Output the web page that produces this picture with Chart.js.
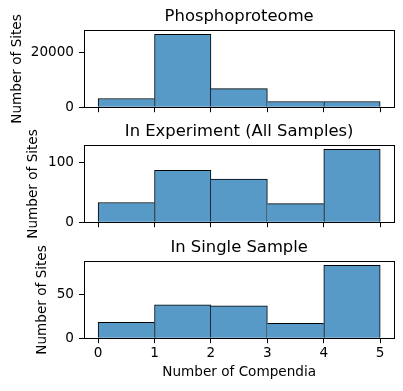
<!DOCTYPE html>
<html><head><meta charset="utf-8">
<script src="https://cdn.jsdelivr.net/npm/chart.js@4.4.1/dist/chart.umd.min.js"></script>
<style>
html,body{margin:0;padding:0;background:#fff;width:403px;height:391px;overflow:hidden}
canvas{position:absolute;left:0;top:0}
</style></head><body>
<canvas id="c1" width="403" height="391"></canvas>
<canvas id="c2" width="403" height="391"></canvas>
<canvas id="c3" width="403" height="391"></canvas>
<script>
const binEdges = [0, 1, 2, 3, 4, 5];
const xTickValues = [0, 1, 2, 3, 4, 5];
const panelTitles = ['Phosphoproteome', 'In Experiment (All Samples)', 'In Single Sample'];
const phosphoproteomeCounts = [3200, 26800, 6850, 2100, 2100];
const experimentCounts = [33, 87, 72, 31, 122];
const singleSampleCounts = [18, 38, 37, 17, 83];
const yTicksPhospho = [0, 20000];
const yTicksExperiment = [0, 100];
const yTicksSingle = [0, 50];
const yAxisLabel = 'Number of Sites';
const xAxisLabel = 'Number of Compendia';

Chart.defaults.font.family = 'DejaVu Sans';
Chart.defaults.color = '#000';

const TICK_FONT = {family: 'DejaVu Sans', size: 13.6};
const TITLE_FONT = {family: 'DejaVu Sans', size: 16.4, weight: 'normal'};
const BAR_FILL = 'rgb(87,153,199)';
const AXES_HEIGHT = 76.5;

function makePanel(id, counts, yTicks, title, cfg) {
  const pts = counts.map((v, i) => ({x: (binEdges[i] + binEdges[i + 1]) / 2, y: v}));
  const ymax = Math.max(...counts) * 1.05;
  const span = binEdges[binEdges.length - 1] - binEdges[0];
  const xmin = binEdges[0] - span * 0.05, xmax = binEdges[binEdges.length - 1] + span * 0.05;
  const titleH = 23.5;
  const top = cfg.axesTop;
  const bottom = top + AXES_HEIGHT;
  const last = counts.length - 1;
  const edgeWidths = ctx => {
    const i = ctx.dataIndex;
    return {
      top: 1, bottom: 0,
      left: (i === 0 || counts[i] >= counts[i - 1]) ? 1 : 0,
      right: (i === last || counts[i] > counts[i + 1]) ? 1 : 0
    };
  };
  return new Chart(document.getElementById(id), {
    type: 'bar',
    data: {datasets: [{
      data: pts,
      backgroundColor: BAR_FILL,
      borderColor: '#000',
      borderWidth: edgeWidths,
      borderSkipped: false,
      categoryPercentage: 1,
      barPercentage: 1,
      xAxisID: 'x', yAxisID: 'y'
    }]},
    options: {
      responsive: false,
      animation: false,
      devicePixelRatio: 1,
      events: [],
      layout: {padding: {left: 0, right: 8.7, top: top - titleH, bottom: 391 - bottom - cfg.xHeight}},
      plugins: {
        legend: {display: false},
        tooltip: {enabled: false},
        title: {display: false}
      },
      scales: {
        x: {
          type: 'linear', position: 'bottom', offset: false, min: xmin, max: xmax,
          afterBuildTicks: s => { s.ticks = xTickValues.map(v => ({value: v})); },
          afterFit: s => { s.height = cfg.xHeight; },
          grid: {display: true, offset: false, drawOnChartArea: false, drawTicks: true, tickLength: 5, color: '#000', lineWidth: 1},
          border: {display: true, color: '#000', width: 1},
          ticks: {display: cfg.showX, font: TICK_FONT, color: '#000', padding: 2, maxRotation: 0,
                  callback: v => String(v)},
          title: {display: cfg.showX, text: xAxisLabel, font: TICK_FONT, color: '#000', padding: {top: 0, bottom: 1.4}}
        },
        x2: {
          type: 'linear', position: 'top', min: 0, max: 1,
          afterFit: s => { s.height = titleH; },
          grid: {display: false, drawTicks: false},
          border: {display: true, color: '#000', width: 1},
          ticks: {display: false},
          title: {display: true, text: title, font: TITLE_FONT, color: '#000', padding: {top: 0, bottom: 0}}
        },
        y: {
          type: 'linear', position: 'left', min: 0, max: ymax,
          afterBuildTicks: s => { s.ticks = yTicks.map(v => ({value: v})); },
          afterFit: s => { s.width = 84; },
          grid: {display: true, drawOnChartArea: false, drawTicks: true, tickLength: 5, color: '#000', lineWidth: 1},
          border: {display: true, color: '#000', width: 1},
          ticks: {font: TICK_FONT, color: '#000', padding: 5, callback: v => String(v)},
          title: {display: true, text: yAxisLabel, font: TICK_FONT, color: '#000', padding: {top: cfg.yTitlePad, bottom: 0}}
        },
        y2: {
          type: 'linear', position: 'right', min: 0, max: 1,
          afterFit: s => { s.width = 0; },
          grid: {display: false, drawTicks: false},
          border: {display: true, color: '#000', width: 1},
          ticks: {display: false}
        }
      }
    }
  });
}

makePanel('c1', phosphoproteomeCounts, yTicksPhospho, panelTitles[0],
  {axesTop: 30.7, xHeight: 10, showX: false, yTitlePad: 9});
makePanel('c2', experimentCounts, yTicksExperiment, panelTitles[1],
  {axesTop: 145.7, xHeight: 10, showX: false, yTitlePad: 25});
makePanel('c3', singleSampleCounts, yTicksSingle, panelTitles[2],
  {axesTop: 261.7, xHeight: 44, showX: true, yTitlePad: 34});
</script>
</body></html>
